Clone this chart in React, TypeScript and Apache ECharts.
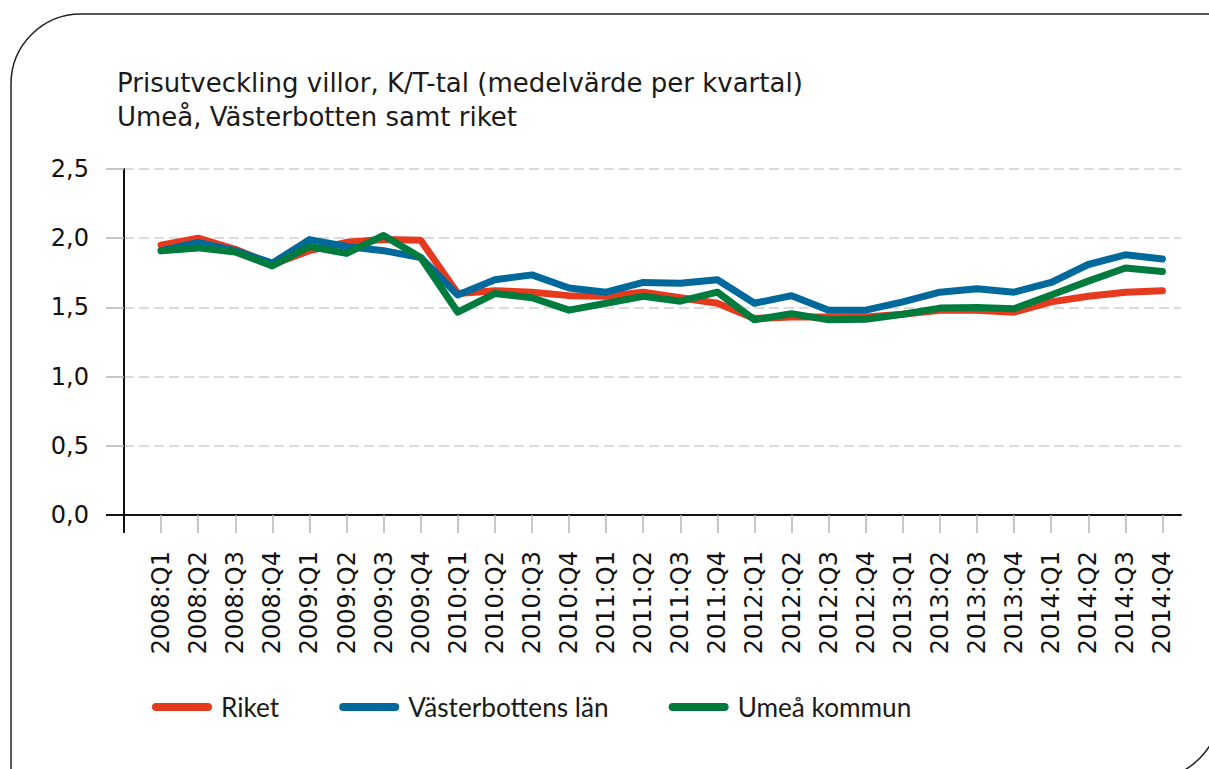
import React, { useEffect, useRef } from "react";
import * as echarts from "echarts";

const categories = [
  "2008:Q1", "2008:Q2", "2008:Q3", "2008:Q4",
  "2009:Q1", "2009:Q2", "2009:Q3", "2009:Q4",
  "2010:Q1", "2010:Q2", "2010:Q3", "2010:Q4",
  "2011:Q1", "2011:Q2", "2011:Q3", "2011:Q4",
  "2012:Q1", "2012:Q2", "2012:Q3", "2012:Q4",
  "2013:Q1", "2013:Q2", "2013:Q3", "2013:Q4",
  "2014:Q1", "2014:Q2", "2014:Q3", "2014:Q4",
];

const riket = [
  1.95, 2.0, 1.92, 1.81, 1.91, 1.97, 1.99, 1.985,
  1.6, 1.62, 1.61, 1.585, 1.58, 1.61, 1.57, 1.53,
  1.42, 1.43, 1.43, 1.43, 1.45, 1.48, 1.48, 1.465,
  1.54, 1.58, 1.61, 1.62,
];
const vasterbotten = [
  1.91, 1.97, 1.91, 1.82, 1.99, 1.94, 1.91, 1.86,
  1.59, 1.7, 1.735, 1.64, 1.61, 1.68, 1.675, 1.7,
  1.53, 1.585, 1.48, 1.48, 1.54, 1.61, 1.635, 1.61,
  1.68, 1.81, 1.88, 1.85,
];
const umea = [
  1.91, 1.93, 1.9, 1.8, 1.94, 1.89, 2.02, 1.86,
  1.465, 1.6, 1.57, 1.48, 1.53, 1.58, 1.545, 1.61,
  1.41, 1.455, 1.41, 1.415, 1.45, 1.495, 1.5, 1.49,
  1.59, 1.69, 1.785, 1.76,
];

const seriesNames = ["Riket", "Västerbottens län", "Umeå kommun"];
const seriesColors = ["#e63a1e", "#00699b", "#007b3e"];
const yTicks = [0, 0.5, 1, 1.5, 2, 2.5];
const titleLines = [
  "Prisutveckling villor, K/T-tal (medelvärde per kvartal)",
  "Umeå, Västerbotten samt riket",
];

const GRID_LEFT = 124;
const GRID_TOP = 169;
const GRID_RIGHT_X = 1181;
const GRID_BOTTOM_Y = 515;

export default function App() {
  const ref = useRef<HTMLDivElement>(null);
  useEffect(() => {
    if (!ref.current) return;
    const chart = echarts.init(ref.current, undefined, { renderer: "svg" });
    const toPairs = (arr: number[]) => arr.map((v, i) => [i, v]);
    const data = [riket, vasterbotten, umea];
    const tickFont = "'DejaVu Sans', sans-serif";
    const titleFont = "'DejaVu Sans', sans-serif";
    const legendFont = "Lato, 'Noto Sans', sans-serif";
    const titleStyle = {
      fontFamily: titleFont,
      fontSize: 26,
      fontWeight: "normal",
      color: "#1a1a1a",
      lineHeight: 34,
    };
    chart.setOption({
      animation: false,
      backgroundColor: "#ffffff",
      title: {
        text: titleLines[0],
        subtext: titleLines[1],
        itemGap: 0,
        left: 117,
        top: 66,
        padding: 0,
        textStyle: titleStyle,
        subtextStyle: titleStyle,
      },
      legend: {
        left: 147,
        top: 689,
        itemWidth: 60,
        itemHeight: 8,
        itemGap: 60,
        icon: "path://M4,0 H56 A4,4 0 0 1 56,8 H4 A4,4 0 0 1 4,0 Z",
        data: seriesNames,
        textStyle: {
          fontFamily: legendFont,
          fontSize: 26.2,
          color: "#1a1a1a",
          padding: [0, 0, 0, 4],
        },
      },
      grid: {
        left: GRID_LEFT,
        top: GRID_TOP,
        width: GRID_RIGHT_X - GRID_LEFT,
        height: GRID_BOTTOM_Y - GRID_TOP,
        containLabel: false,
      },
      xAxis: {
        type: "value",
        min: -1,
        max: 27.5,
        interval: 1,
        axisLine: { show: true, onZero: false, lineStyle: { color: "#111", width: 2 } },
        axisTick: {
          show: true,
          length: 18,
          customValues: categories.map((_, i) => i),
          lineStyle: { color: "#b5b5b5", width: 1.5 },
        },
        axisLabel: {
          customValues: categories.map((_, i) => i),
          formatter: (v: number) => categories[v] ?? "",
          rotate: 90,
          margin: 36,
          fontFamily: tickFont,
          fontSize: 24,
          color: "#111",
        },
        splitLine: { show: false },
      },
      yAxis: {
        type: "value",
        min: 0,
        max: 2.5,
        interval: 0.5,
        axisLine: { show: true, onZero: false, lineStyle: { color: "#111", width: 2 } },
        axisTick: {
          show: true,
          length: 18,
          customValues: yTicks.slice(1),
          lineStyle: { color: "#b5b5b5", width: 1.5 },
        },
        axisLabel: {
          margin: 35,
          formatter: (v: number) => v.toFixed(1).replace(".", ","),
          fontFamily: tickFont,
          fontSize: 24,
          color: "#111",
        },
        splitLine: {
          show: true,
          lineStyle: { color: "#cfcfcf", width: 1.5, type: [10, 5] },
        },
      },
      series: seriesNames.map((name, k) => ({
        name,
        type: "line",
        data: toPairs(data[k]),
        showSymbol: false,
        symbol: "none",
        z: 2 + k,
        color: seriesColors[k],
        lineStyle: { width: 7, color: seriesColors[k], cap: "round", join: "round" },
      })),
      graphic: [
        {
          type: "rect",
          silent: true,
          shape: { x: 11, y: 14, width: 1209, height: 765, r: [70, 0, 70, 0] },
          style: { fill: "none", stroke: "#222", lineWidth: 1.5 },
        },
        {
          type: "line",
          silent: true,
          shape: { x1: GRID_LEFT - 18, y1: GRID_BOTTOM_Y, x2: GRID_LEFT, y2: GRID_BOTTOM_Y },
          style: { stroke: "#111", lineWidth: 2 },
        },
        {
          type: "line",
          silent: true,
          shape: { x1: GRID_LEFT, y1: GRID_BOTTOM_Y, x2: GRID_LEFT, y2: GRID_BOTTOM_Y + 18 },
          style: { stroke: "#111", lineWidth: 2 },
        },
      ],
    });
    return () => chart.dispose();
  }, []);
  return (
    <div
      ref={ref}
      style={{ position: "fixed", left: 0, top: 0, width: 1209, height: 769 }}
    />
  );
}
